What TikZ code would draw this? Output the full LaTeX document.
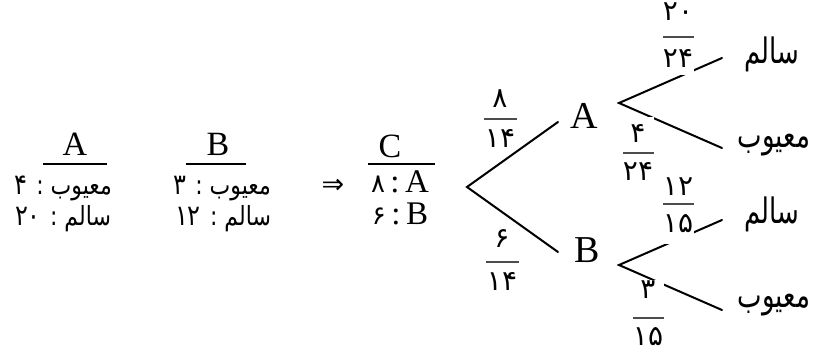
\documentclass[tikz,border=0pt]{standalone}
\usepackage{fontspec}
\setmainfont{Liberation Serif}
\newfontfamily\fa[Script=Arabic]{DejaVu Sans}
\newfontfamily\djs{DejaVu Sans}
\TeXXeTstate=1
\newcommand\bigdig[1]{{\fontsize{24}{28}\selectfont #1}}
\begin{document}
\begin{tikzpicture}[x=1pt,y=-1pt,
  lat/.style={font=\fontsize{34}{40}\selectfont, inner sep=0pt, anchor=base},
  tlat/.style={font=\fontsize{38}{44}\selectfont, inner sep=0pt, anchor=base},
  prow/.style={font=\fa\fontsize{22}{26}\selectfont, inner sep=0pt, anchor=base, yscale=1.2, transform shape},
  crow/.style={font=\fontsize{33}{38}\selectfont, inner sep=0pt, anchor=base},
  leaf/.style={font=\fa\fontsize{26}{30}\selectfont, inner sep=0pt, anchor=center, yscale=1.35, transform shape},
  numplain/.style={font=\fa\fontsize{28}{32}\selectfont, anchor=base, inner sep=0pt},
  num/.style={font=\fa\fontsize{28}{32}\selectfont, fill=white, anchor=base,
     minimum width=32pt, inner xsep=0pt, inner ysep=3pt, text height=15pt, text depth=5pt},
  fbar/.style={fill=black!70, minimum width=31pt, minimum height=2.6pt, inner sep=0pt},
  hbar/.style={fill=black, minimum height=2pt, inner sep=0pt},
  branch/.style={line width=2pt, line cap=round},
  impl/.style={font=\djs\fontsize{27}{30}\selectfont, inner sep=0pt}
]
\useasboundingbox (0,0) rectangle (824,354);

% left tables
\node[lat] (hA) at (75,155) {A};
\node[hbar, minimum width=64pt] (barA) at (75,164) {};
\node[prow] (a1) at (63,194) {\beginR معیوب : \bigdig{۴}\endR};
\node[prow] (a2) at (63,225) {\beginR سالم : \beginL\bigdig{۲۰}\endL\endR};

\node[lat] (hB) at (218,155) {B};
\node[hbar, minimum width=60pt] (barB) at (216,164) {};
\node[prow] (b1) at (222,194) {\beginR معیوب : \bigdig{۳}\endR};
\node[prow] (b2) at (223,225) {\beginR سالم : \beginL\bigdig{۱۲}\endL\endR};

\node[impl] (imp) at (333,186) {⇒};

\node[lat] (hC) at (390,157) {C};
\node[hbar, minimum width=67pt] (barC) at (401,164) {};
\node[crow] (c1) at (400,192) {{\fa\fontsize{26}{30}\selectfont ۸}\,:\,A};
\node[crow] (c2) at (400,224) {{\fa\fontsize{26}{30}\selectfont ۶}\,:\,B};

% tree
\coordinate (v0) at (467,187);
\node[tlat] (tA) at (584,128) {A};
\node[tlat] (tB) at (587,262) {B};
\coordinate (eA) at (558,122);
\coordinate (eB) at (558,252);
\draw[branch] (eA) -- (v0) -- (eB);

\coordinate (vA) at (619,103);
\coordinate (vB) at (619,265);
\node[leaf] (s1) at (772,54) {\beginR سالم\endR};
\node[leaf] (m1) at (774,145) {\beginR معیوب\endR};
\node[leaf] (s2) at (772,214) {\beginR سالم\endR};
\node[leaf] (m2) at (774,305) {\beginR معیوب\endR};
\coordinate (e1) at (722,58);
\coordinate (e2) at (722,148);
\coordinate (e3) at (722,220);
\coordinate (e4) at (722,310);
\draw[branch] (e1) -- (vA) -- (e2);
\draw[branch] (e3) -- (vB) -- (e4);

% fractions
\node[fbar, minimum width=33pt] (f1) at (500,119) {};
\node[numplain] (f1n) at (500,107) {۸};
\node[numplain] (f1d) at (500,147) {۱۴};

\node[fbar, minimum width=33pt] (f2) at (502,262) {};
\node[numplain] (f2n) at (502,247) {۶};
\node[numplain] (f2d) at (502,290) {۱۴};

\node[fbar] (f3) at (678,37) {};
\node[num] (f3n) at (678,20) {۲۰};
\node[num] (f3d) at (678,67) {۲۴};

\node[fbar] (f4) at (638,153) {};
\node[num, text height=22pt] (f4n) at (638,142) {۴};
\node[num] (f4d) at (638,180) {۲۴};

\node[fbar] (f5) at (678,204) {};
\node[num] (f5n) at (678,195) {۱۲};
\node[num, text depth=9pt] (f5d) at (678,232) {۱۵};

\node[fbar] (f6) at (648,318) {};
\node[num] (f6n) at (648,298) {۳};
\node[num] (f6d) at (648,345) {۱۵};
\end{tikzpicture}
\end{document}
